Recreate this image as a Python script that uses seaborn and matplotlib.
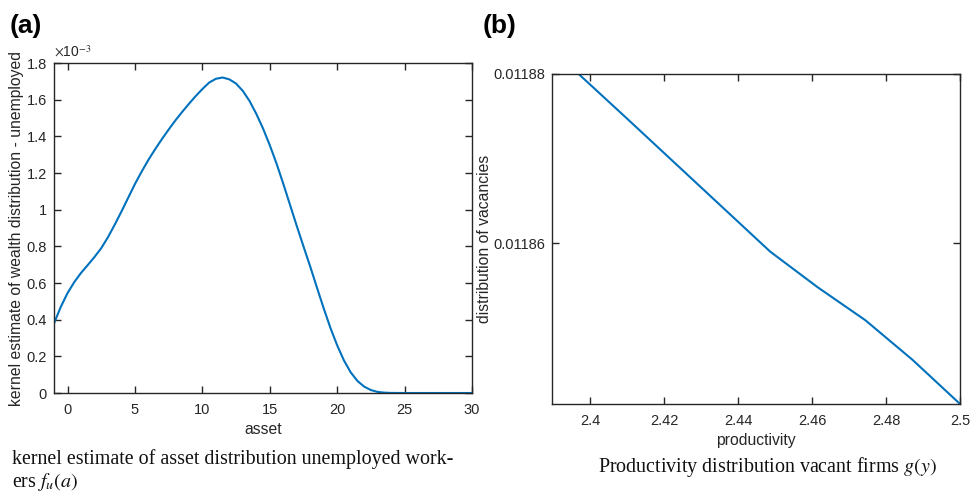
import numpy as np
import pandas as pd
import seaborn as sns
import matplotlib
matplotlib.use("Agg")
import matplotlib.pyplot as plt
from matplotlib.ticker import FuncFormatter

# Panel (a): kernel estimate of the asset distribution of unemployed workers
asset = [-1, -0.5, 0, 0.5, 1, 1.5, 2, 2.5, 3, 3.5, 4, 4.5, 5, 5.5, 6, 6.5, 7,
         7.5, 8, 8.5, 9, 9.5, 10, 10.5, 11, 11.5, 12, 12.5, 13, 13.5, 14, 14.5,
         15, 15.5, 16, 16.5, 17, 17.5, 18, 18.5, 19, 19.5, 20, 20.5, 21, 21.5,
         22, 22.5, 23, 23.5, 24, 25, 26, 27, 28, 29, 30]
density_e3 = [0.38, 0.47, 0.545, 0.605, 0.655, 0.698, 0.742, 0.79, 0.85,
              0.918, 0.99, 1.065, 1.14, 1.208, 1.272, 1.33, 1.385, 1.437,
              1.487, 1.533, 1.577, 1.619, 1.658, 1.693, 1.714, 1.721, 1.711,
              1.688, 1.648, 1.593, 1.523, 1.443, 1.352, 1.252, 1.142, 1.027,
              0.912, 0.80, 0.69, 0.575, 0.462, 0.355, 0.26, 0.178, 0.113,
              0.066, 0.035, 0.016, 0.006, 0.002, 0.0005, 0, 0, 0, 0, 0, 0]
a_yticks = [0, 0.2, 0.4, 0.6, 0.8, 1.0, 1.2, 1.4, 1.6, 1.8]
a_xticks = [0, 5, 10, 15, 20, 25, 30]

# Panel (b): distribution of vacancies over productivity
productivity = [2.3846, 2.3974, 2.4103, 2.4231, 2.4359, 2.4487, 2.4615,
                2.4744, 2.4872, 2.5]
vacancies = [0.0118851, 0.0118798, 0.0118746, 0.0118694, 0.0118642,
             0.0118590, 0.0118548, 0.0118509, 0.0118462, 0.0118410]
b_xticks = [2.40, 2.42, 2.44, 2.46, 2.48, 2.50]
b_yticks = [0.01186, 0.01188]

sns.set_theme(style="white")
plt.rcParams["font.family"] = ["Liberation Sans", "DejaVu Sans"]
plt.rcParams["mathtext.fontset"] = "stix"

LINE = "#0072BD"
AXC = "#262626"

fig = plt.figure(figsize=(9.72, 4.92), dpi=100)
ax1 = fig.add_axes([0.0556, 0.2012, 0.4300, 0.6707])
ax2 = fig.add_axes([0.5679, 0.1789, 0.4198, 0.6707])

df_a = pd.DataFrame({"asset": asset,
                     "density": np.array(density_e3) * 1e-3})
df_b = pd.DataFrame({"productivity": productivity, "vacancies": vacancies})

sns.lineplot(data=df_a, x="asset", y="density", ax=ax1, color=LINE,
             linewidth=1.5, sort=False)
sns.lineplot(data=df_b, x="productivity", y="vacancies", ax=ax2, color=LINE,
             linewidth=1.5, sort=False)


def style_axes(ax):
    for sp in ax.spines.values():
        sp.set_visible(True)
        sp.set_color(AXC)
        sp.set_linewidth(1.0)
    ax.tick_params(direction="in", length=5, width=1.0, colors=AXC,
                   labelcolor=AXC, labelsize=10.5, top=True, right=True,
                   bottom=True, left=True)
    ax.tick_params(axis="x", pad=7.5)
    ax.tick_params(axis="y", pad=5)
    ax.grid(False)


style_axes(ax1)
ax1.set_xlim(-1, 30)
ax1.set_ylim(0, 1.8e-3)
ax1.set_xticks(a_xticks)
ax1.set_yticks([v * 1e-3 for v in a_yticks])
ax1.yaxis.set_major_formatter(FuncFormatter(lambda v, p: f"{v * 1e3:g}"))
ax1.set_xlabel("asset", fontsize=11.3, color=AXC, labelpad=3)
ax1.set_ylabel("kernel estimate of wealth distribution - unemployed",
               fontsize=11.3, color=AXC, labelpad=2)
ax1.text(0.0, 1.01, r"$\times$10$^{-3}$", transform=ax1.transAxes,
         fontsize=10, color=AXC, ha="left", va="bottom",
         family="Liberation Sans")

style_axes(ax2)
ax2.set_xlim(2.3897, 2.5)
ax2.set_ylim(0.011841, 0.01188)
ax2.set_xticks(b_xticks)
ax2.set_xticklabels([f"{v:g}" for v in b_xticks])
ax2.set_yticks(b_yticks)
ax2.set_yticklabels([f"{v:.5f}" for v in b_yticks])
ax2.set_xlabel("productivity", fontsize=11.3, color=AXC, labelpad=3)
ax2.set_ylabel("distribution of vacancies", fontsize=11.3, color=AXC,
               labelpad=1)

# Panel letters
fig.text(0.010, 0.947, "(a)", fontsize=19, fontweight="bold", color="black",
         ha="left", va="center")
fig.text(0.497, 0.947, "(b)", fontsize=19, fontweight="bold", color="black",
         ha="left", va="center")

# Captions
cap_font = dict(family="Liberation Serif", fontsize=14.4, color="#111111")
fig.text(0.012, 0.057,
         "kernel estimate of asset distribution unemployed work-",
         ha="left", va="baseline", **cap_font)
fig.text(0.012, 0.011, r"ers $f_u(a)$", ha="left", va="baseline", **cap_font)
fig.text(0.789, 0.040, r"Productivity distribution vacant firms $g(y)$",
         ha="center", va="baseline", **cap_font)

fig.savefig("out.png", dpi=100)
